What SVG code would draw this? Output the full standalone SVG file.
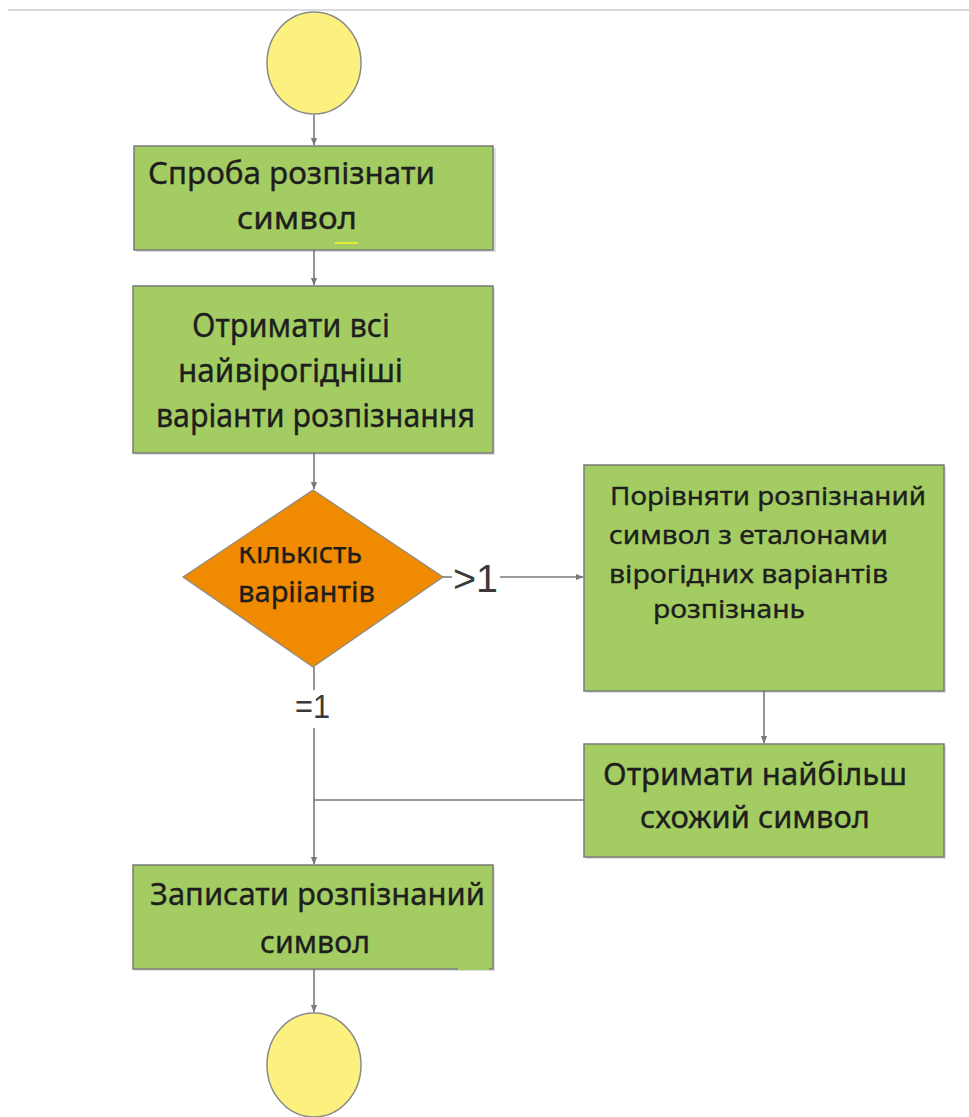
<svg xmlns="http://www.w3.org/2000/svg" width="969" height="1117" viewBox="0 0 969 1117">
  <style>
    .term { fill: #FCF07E; stroke: #8A8A8A; stroke-width: 1.5; }
    .proc { fill: #A3CD62; stroke: #7A7A7A; stroke-width: 1.5; }
    .shadow { fill: #000; opacity: 0.12; }
    .dec { fill: #F08A00; stroke: #8A8A8A; stroke-width: 1.2; }
    .lbl { font-family: "Noto Sans", "Open Sans", sans-serif; fill: #1E1E1E; stroke: #1E1E1E; stroke-width: 0.35; }
    .cond { font-family: "Liberation Sans", Arial, sans-serif; fill: #3A3A3A; }
    .wire { fill: none; stroke: #7A7A7A; stroke-width: 1.6; }
  </style>
  <defs>
    <marker id="arrow" viewBox="0 0 10 10" refX="9" refY="5" markerWidth="8" markerHeight="8" orient="auto" markerUnits="userSpaceOnUse">
      <path d="M0,1 L10,5 L0,9 z" fill="#7A7A7A"/>
    </marker>
    <clipPath id="decClip">
      <rect x="180" y="547" width="270" height="120"/>
    </clipPath>
  </defs>

  <rect width="969" height="1117" fill="#FFFFFF"/>
  <!-- page edge -->
  <line x1="8" y1="10" x2="969" y2="10" stroke="#DADADA" stroke-width="2"/>

  <!-- connectors -->
  <g id="connectors">
    <line class="wire" x1="314" y1="115" x2="314" y2="145" marker-end="url(#arrow)"/>
    <line class="wire" x1="314" y1="250" x2="314" y2="285" marker-end="url(#arrow)"/>
    <line class="wire" x1="314" y1="453" x2="314" y2="489" marker-end="url(#arrow)"/>
    <line class="wire" x1="443" y1="577" x2="452" y2="577"/>
    <line class="wire" x1="500" y1="577" x2="583" y2="577" marker-end="url(#arrow)"/>
    <line class="wire" x1="314" y1="667" x2="314" y2="690"/>
    <line class="wire" x1="314" y1="728" x2="314" y2="864" marker-end="url(#arrow)"/>
    <line class="wire" x1="584" y1="800" x2="314" y2="800"/>
    <line class="wire" x1="764" y1="691" x2="764" y2="743" marker-end="url(#arrow)"/>
    <line class="wire" x1="314" y1="969" x2="314" y2="1012" marker-end="url(#arrow)"/>
    <text class="cond" x="453" y="592" font-size="38" textLength="45" lengthAdjust="spacingAndGlyphs">&gt;1</text>
    <text class="cond" x="295" y="718" font-size="33" textLength="35" lengthAdjust="spacingAndGlyphs">=1</text>
  </g>

  <!-- start -->
  <g id="start">
    <ellipse class="term" cx="314" cy="63" rx="47" ry="51"/>
  </g>

  <!-- step 1 -->
  <g id="try-recognize">
    <rect class="shadow" x="136" y="148" width="360" height="104"/>
    <rect class="proc" x="134" y="146" width="359" height="104"/>
    <text class="lbl" x="148" y="184" font-size="31" textLength="287" lengthAdjust="spacingAndGlyphs">Спроба розпізнати</text>
    <text class="lbl" x="237" y="229" font-size="31" textLength="120" lengthAdjust="spacingAndGlyphs">символ</text>
    <line x1="335" y1="243" x2="358" y2="243" stroke="#E4EE3A" stroke-width="2"/>
  </g>

  <!-- step 2 -->
  <g id="get-candidates">
    <rect class="shadow" x="135" y="288" width="360" height="167"/>
    <rect class="proc" x="133" y="286" width="360" height="167"/>
    <text class="lbl" x="192" y="337" font-size="33" textLength="198" lengthAdjust="spacingAndGlyphs">Отримати всі</text>
    <text class="lbl" x="178" y="382" font-size="33" textLength="225" lengthAdjust="spacingAndGlyphs">найвірогідніші</text>
    <text class="lbl" x="156" y="427" font-size="33" textLength="319" lengthAdjust="spacingAndGlyphs">варіанти розпізнання</text>
  </g>

  <!-- decision -->
  <g id="count-decision">
    <polygon class="dec" points="313,490 443,577 313,667 183,577"/>
    <g clip-path="url(#decClip)">
      <text class="lbl" x="238" y="563" font-size="29" textLength="124" lengthAdjust="spacingAndGlyphs">Кількість</text>
    </g>
    <text class="lbl" x="238" y="602" font-size="29" textLength="137" lengthAdjust="spacingAndGlyphs">варііантів</text>
  </g>

  <!-- compare -->
  <g id="compare">
    <rect class="shadow" x="586" y="467" width="360" height="226"/>
    <rect class="proc" x="584" y="465" width="360" height="226"/>
    <text class="lbl" x="610" y="505" font-size="26" textLength="316" lengthAdjust="spacingAndGlyphs">Порівняти розпізнаний</text>
    <text class="lbl" x="609" y="544" font-size="26" textLength="279" lengthAdjust="spacingAndGlyphs">символ з еталонами</text>
    <text class="lbl" x="609" y="583" font-size="26" textLength="279" lengthAdjust="spacingAndGlyphs">вірогідних варіантів</text>
    <text class="lbl" x="653" y="618" font-size="26" textLength="152" lengthAdjust="spacingAndGlyphs">розпізнань</text>
  </g>

  <!-- best match -->
  <g id="best-match">
    <rect class="shadow" x="586" y="746" width="360" height="113"/>
    <rect class="proc" x="584" y="744" width="360" height="113"/>
    <text class="lbl" x="603" y="785" font-size="30" textLength="304" lengthAdjust="spacingAndGlyphs">Отримати найбільш</text>
    <text class="lbl" x="640" y="828" font-size="30" textLength="230" lengthAdjust="spacingAndGlyphs">схожий символ</text>
  </g>

  <!-- write result -->
  <g id="write-result">
    <rect class="shadow" x="135" y="867" width="360" height="104"/>
    <rect class="proc" x="133" y="865" width="360" height="104"/>
    <line x1="458" y1="969" x2="489" y2="969" stroke="#A3CD62" stroke-width="2"/>
    <text class="lbl" x="150" y="905" font-size="31" textLength="335" lengthAdjust="spacingAndGlyphs">Записати розпізнаний</text>
    <text class="lbl" x="260" y="953" font-size="31" textLength="110" lengthAdjust="spacingAndGlyphs">символ</text>
  </g>

  <!-- end -->
  <g id="end">
    <ellipse class="term" cx="314" cy="1065" rx="47" ry="52"/>
  </g>
</svg>
